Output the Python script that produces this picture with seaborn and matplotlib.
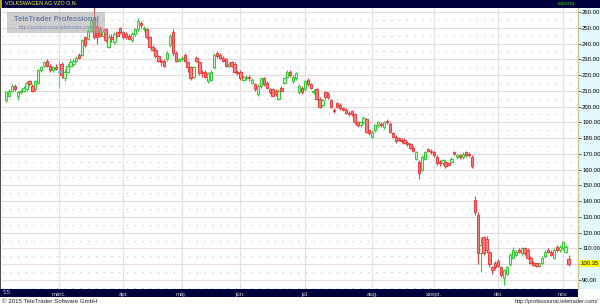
import matplotlib
matplotlib.use("Agg")
import matplotlib.pyplot as plt
from matplotlib.patches import Rectangle
import numpy as np
import pandas as pd
import seaborn as sns

# ---------------- data ----------------
title = "VOLKSWAGEN AG VZO O.N."
start_date = "2015-02-04"
holidays = ["2015-04-03", "2015-04-06", "2015-05-01"]

opens = [204, 207, 210, 213, 207, 209, 210, 211, 216, 213, 211, 215, 223, 226, 229, 226, 223, 225,
         222, 227, 218, 222, 226, 227, 229, 233, 233, 244, 243, 248, 256, 251, 250, 245, 249, 238, 244, 241, 247, 250,
         247, 246, 245, 242, 246, 249, 253, 249, 249, 244, 238, 236, 232, 229, 229, 230, 239, 247, 234, 229,
         230, 233, 228, 225, 219, 231, 228, 222, 222, 216, 217, 225, 234, 233, 231, 230, 226, 228, 227, 222,
         222, 217, 218, 219, 215, 214, 208, 213, 218, 215, 211, 211, 210, 205, 212, 215, 219, 222, 216, 218, 209, 212,
         211, 217, 214, 209, 211, 205, 201, 209, 208, 204, 198, 202, 201, 199, 198, 196, 197, 195, 190, 188, 190, 192, 185,
         181, 185, 188, 189, 187, 191, 189, 183, 181, 180, 179, 179, 177, 176, 174, 167, 165, 160, 167, 173, 172,
         171, 168, 165, 164, 165, 164, 165, 171, 168, 169, 168, 171, 170, 168, 141, 131, 107, 117, 116, 108, 98, 101,
         102, 98, 91, 94, 100, 104, 106, 109, 107, 110, 109, 104, 101, 100.5, 99, 101, 105, 109, 108, 104, 111, 109,
         110, 108, 103]
highs = [210, 211, 214, 214, 210, 211, 213, 216, 217, 214, 217, 224, 226, 229, 230, 227, 226, 227,
         229, 228, 224, 227, 230, 230, 232, 234, 243, 245, 249, 257, 263, 255, 251, 249, 250, 246, 246, 247, 248, 250.5,
         248, 247, 246, 247, 250, 256, 254, 251, 250, 245, 239, 237, 233, 230, 230, 235, 246, 249, 235, 231,
         232, 234, 229, 226, 226, 232, 229, 223, 223, 222, 223, 234, 235, 234, 232, 231, 228, 229, 228, 223,
         223, 220, 220, 220, 218, 215, 214, 219, 219, 216, 212, 212, 211, 211, 213, 219, 223, 223, 220, 222, 214, 213,
         217, 218, 215, 211, 212, 206, 205, 210, 209, 205, 199, 203, 202, 200, 199, 197, 198, 196, 191, 191, 194, 193, 186,
         185, 189, 191, 190, 191, 192, 190, 184, 182, 181, 180, 180, 178, 177, 175, 172, 166, 169, 172, 174, 173,
         172, 169, 166, 167, 166, 165, 168, 172, 170, 170, 171, 172, 171, 169, 143, 133, 117, 118, 118, 109, 99, 102,
         103, 99, 97, 99, 107, 111, 109, 110, 111, 111, 110, 105, 102, 101, 101, 105, 109, 110, 109, 110, 112, 112,
         115, 112, 106]
lows = [203, 206, 209, 210, 204, 208, 209, 210, 213, 209, 210, 214, 222, 225, 225, 222, 222, 223,
        212, 218, 216, 221, 225, 226, 228, 230, 232, 238, 242, 247, 243, 240, 244, 244, 241, 237, 241, 240, 244, 246,
        243, 243, 242, 241, 245, 248, 250, 248, 243, 237, 235, 231, 228, 226, 225, 229, 238, 232, 228, 228,
        229, 228, 222, 217, 218, 228, 220, 219, 218, 215, 216, 224, 231, 230, 228, 225, 225, 225, 221, 220,
        217, 216, 217, 216, 214, 210, 207, 212, 213, 211, 208, 206, 207, 204, 209, 214, 218, 219, 215, 217, 208, 208,
        210, 213, 211, 208, 204, 199, 200, 205, 205, 199, 196, 199, 198, 197, 195, 194, 194, 189, 187, 187, 189, 183, 182,
        180, 184, 187, 187, 186, 189, 183, 180, 177, 178, 177, 176, 175, 173, 171, 166, 154, 159, 166, 171, 170,
        168, 163, 162, 163, 161, 162, 164, 169, 167, 167, 167, 168, 168, 161, 131, 100, 95, 106, 107, 98, 94, 97,
        98, 92, 87, 93, 99, 103, 105, 107, 106, 106, 103, 100, 99, 98, 98, 100, 104, 107, 105, 103, 108, 108,
        109, 107, 99]
closes = [209, 210, 213, 211, 209, 210, 212, 215, 214, 210, 216, 223, 225, 228, 226, 223, 225, 224,
          222, 220, 222, 226, 228, 229, 231, 231, 242, 239, 248, 255, 244, 244, 245, 248, 242, 244, 243, 246, 245, 247,
          244, 244, 243, 246, 249, 254, 252, 250, 244, 238, 236, 232, 229, 228, 226, 234, 245, 234, 229, 230,
          231, 229, 225, 218, 225, 229, 221, 221, 219, 221, 222, 233, 232, 231, 229, 226, 227, 226, 222, 221,
          218, 219, 219, 218, 217, 211, 213, 218, 214, 212, 209, 207, 208, 210, 210, 218, 222, 220, 219, 221, 213, 209,
          216, 214, 212, 210, 205, 200, 204, 206, 206, 200, 197, 200, 199, 198, 196, 195, 195, 190, 188, 190, 193, 184, 183,
          184, 188, 190, 188, 190, 190, 184, 181, 178, 179, 178, 177, 176, 174, 172, 171, 158, 168, 171, 172, 171,
          169, 164, 164, 166, 162, 163, 167, 170, 169, 168, 170, 169, 169, 162, 133, 107, 112, 107, 109, 100, 96, 98,
          99, 93, 96, 98, 106, 109, 108, 108, 110, 107, 104, 101, 99.5, 99, 100.5, 104, 108, 107.5, 106, 109, 109, 111,
          114, 111, 100.35]

month_names = ["márc.", "ápr.", "máj.", "jún.", "júl.", "aug.", "szept.", "okt.", "nov."]
year_label = "'15"
price_ticks = [90, 100, 110, 120, 130, 140, 150, 160, 170, 180, 190, 200, 210, 220, 230, 240, 250, 260]

# ---------------- setup ----------------
sns.set_style("white")
plt.rcParams["font.family"] = ["Liberation Sans", "DejaVu Sans"]

bday = pd.offsets.CustomBusinessDay(holidays=holidays)
dates = pd.date_range(start_date, periods=len(closes), freq=bday)
df = pd.DataFrame({"date": dates, "open": opens, "high": highs, "low": lows, "close": closes})
df["i"] = np.arange(len(df))

W, H = 600, 306
fig = plt.figure(figsize=(W / 100, H / 100), dpi=100)
fig.patch.set_facecolor("white")

NAVY = "#00003c"
top_px, bot_px, left_px, right_px = 7.5, 289, 2, 578
ax = fig.add_axes([left_px / W, 1 - bot_px / H, (right_px - left_px) / W, (bot_px - top_px) / H])
ax.set_facecolor("white")

ppu = 1.576  # px per price unit
ax.set_ylim(260 - (bot_px - 12) / ppu, 260 + (12 - top_px) / ppu)
ax.set_xlim((left_px - 6) / 2.93, (right_px - 6) / 2.93)

# grid
for p in price_ticks:
    ax.axhline(p, color="#e6dadd", lw=0.8, zorder=0)
    ax.axhline(p + 5, color="#c4c4c4", lw=0.8, ls=(0, (1, 6)), zorder=0)
ax.axhline(85, color="#c4c4c4", lw=0.8, ls=(0, (1, 6)), zorder=0)
month_idx = df.groupby(df["date"].dt.month)["i"].first().values[1:]
for m in month_idx:
    ax.axvline(m, color="#e2e2e2", lw=0.9, zorder=0)

# candles
up = df["close"] > df["open"]
dn = df["close"] < df["open"]
eq = df["close"] == df["open"]
styles = [(up, "#2ecc2e", "#c8f5c8"), (dn, "#ee3b3b", "#f88080"), (eq, "#2fd6ea", "#2fd6ea")]
for mask, edge, fill in styles:
    d = df[mask]
    ax.vlines(d["i"], d["low"], d["high"], colors=edge, lw=0.8, zorder=2)
    body = (d["close"] - d["open"]).abs().clip(lower=0.5)
    ax.bar(d["i"], body, bottom=np.minimum(d["open"], d["close"]), width=0.8,
           color=fill, edgecolor=edge, linewidth=0.7, zorder=3)

for s in ax.spines.values():
    s.set_visible(False)

LBL = 4.3
# y ticks on the right
ax.yaxis.tick_right()
ax.set_yticks(price_ticks)
ax.set_yticklabels(["" if p == 100 else f"{p:.2f}" for p in price_ticks])
ax.tick_params(axis="y", right=True, left=False, length=2, width=0.6, color="#404040",
               pad=1.0, labelsize=LBL, labelcolor="black")
# x ticks (month labels in navy band)
ax.set_xticks(month_idx)
ax.set_xticklabels(month_names)
ax.tick_params(axis="x", bottom=True, length=0, pad=2.2, labelsize=LBL, labelcolor="#d0d0d8")
ax.text(0.001, -(293 - bot_px) / (bot_px - top_px), year_label, transform=ax.transAxes,
        ha="left", va="center", fontsize=LBL, color="#d0d0d8")

# last price marker
last = df["close"].iloc[-1]
ax.text(1 + 3 / (right_px - left_px), last, f"{last:.2f}", transform=ax.get_yaxis_transform(),
        ha="left", va="center", fontsize=LBL, color="black", zorder=10, clip_on=False,
        bbox=dict(boxstyle="square,pad=0.15", fc="#ffff00", ec="none"))

# ---------------- frame decorations ----------------
def px_rect(x0, y0, x1, y1, **kw):
    fig.add_artist(Rectangle((x0 / W, 1 - y1 / H), (x1 - x0) / W, (y1 - y0) / H,
                             transform=fig.transFigure, **kw))

px_rect(right_px, top_px, W, bot_px, facecolor="#e2f8fc", edgecolor="none", zorder=-1)
fig.add_artist(plt.Line2D([right_px / W, right_px / W], [1 - bot_px / H, 1 - top_px / H],
                          transform=fig.transFigure, color="#c8c890", lw=1.0))
px_rect(0, 0, W, top_px, facecolor=NAVY, edgecolor="none", zorder=-1)
px_rect(0, bot_px, right_px, 297, facecolor=NAVY, edgecolor="none", zorder=-1)
px_rect(0, top_px, 1.2, bot_px, facecolor="#505050", edgecolor="none", zorder=5)
px_rect(0, 0, 2, top_px, facecolor="#b0a030", edgecolor="none", zorder=5)

fig.text(5 / W, 1 - 3.9 / H, title, ha="left", va="center", fontsize=3.9, color="#ffff40")
fig.text(575 / W, 1 - 3.9 / H, "raporta", ha="right", va="center", fontsize=3.9, color="#20c020")

fig.text(2 / W, 1 - 301.5 / H, "© 2015 TeleTrader Software GmbH", ha="left", va="center",
         fontsize=4.4, color="#202020")
fig.text(598 / W, 1 - 301.5 / H, "http://professional.teletrader.com/", ha="right", va="center",
         fontsize=4.1, color="#202020")

# watermark
px_rect(7, 12, 105, 33, facecolor="#a8a8a8", alpha=0.55, edgecolor="none", zorder=20)
fig.text(56 / W, 1 - 19.5 / H, "TeleTrader Professional", ha="center", va="center",
         fontsize=5.4, fontweight="bold", color="#6f7fa8", zorder=21)
fig.text(56 / W, 1 - 27.5 / H, "http://professional.teletrader.com", ha="center", va="center",
         fontsize=3.6, color="#7f8fb8", zorder=21)

fig.savefig("out.png", dpi=100)
